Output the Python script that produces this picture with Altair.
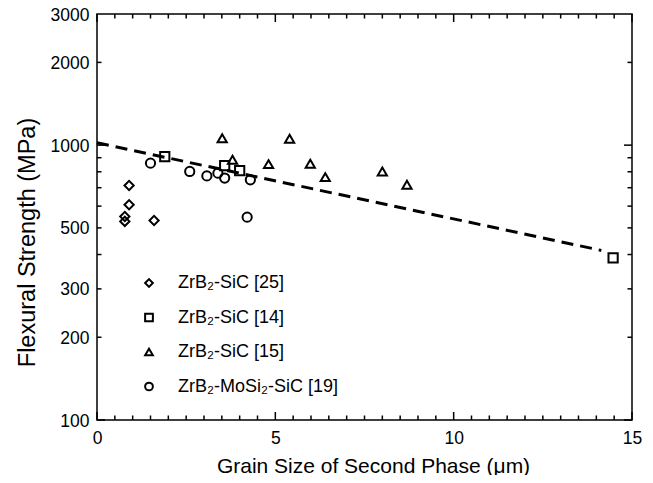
import altair as alt
import pandas as pd

# ---- data ----
diamond_x = [0.90, 0.90, 0.78, 0.78, 1.60]
diamond_y = [713, 607, 550, 528, 532]

square_x = [1.90, 3.58, 4.00, 14.47]
square_y = [909, 843, 808, 389]

triangle_x = [3.51, 3.80, 4.81, 5.40, 5.98, 6.40, 8.00, 8.69]
triangle_y = [1060, 884, 853, 1054, 855, 765, 802, 717]

circle_x = [1.50, 2.60, 3.08, 3.39, 3.58, 4.30, 4.21]
circle_y = [860, 802, 773, 791, 759, 748, 547]

fit_x = [0.0, 14.14]
fit_y = [1020, 414]

series_names = ["ZrB₂-SiC [25]", "ZrB₂-SiC [14]", "ZrB₂-SiC [15]", "ZrB₂-MoSi₂-SiC [19]"]
series_shapes = ["diamond", "square", "triangle-up", "circle"]

x_tick_labels = [0, 5, 10, 15]
x_minor = [v / 2 for v in range(1, 30) if v % 10 != 0]
y_tick_labels = [100, 200, 300, 500, 1000, 2000, 3000]
y_major = [100, 1000]
y_minor = [200, 300, 400, 500, 600, 700, 800, 900, 2000]

# ---- tables ----
rows = []
for name, xs, ys in zip(series_names,
                        [diamond_x, square_x, triangle_x, circle_x],
                        [diamond_y, square_y, triangle_y, circle_y]):
    for a, b in zip(xs, ys):
        rows.append({"series": name, "x": a, "y": b})
pts = pd.DataFrame(rows)
fit = pd.DataFrame({"x": fit_x, "y": fit_y})

W, H = 535, 406
FONT = "Liberation Sans"

xscale = alt.Scale(domain=[0, 15], nice=False, zero=False)
yscale = alt.Scale(type="log", domain=[100, 3000], nice=False)

xaxis = alt.Axis(values=x_tick_labels, format="d", title="Grain Size of Second Phase (μm)",
                 ticks=False, domain=False, grid=False, labelFlush=False, labelOverlap=False,
                 labelPadding=9, labelFontSize=17.5, titleFontSize=21,
                 titleX=276, titleY=46, titleBaseline="middle", titleAlign="center")
yaxis = alt.Axis(values=y_tick_labels, format="d", title="Flexural Strength (MPa)",
                 ticks=False, domain=False, grid=False, labelFlush=False, labelOverlap=False,
                 labelPadding=8, labelFontSize=17.5, labelOffset=1, titleFontSize=23.5,
                 titleX=-70, titleY=228, titleBaseline="middle", titleAlign="center", titleAngle=-90)

X = lambda f: alt.X(f, type="quantitative", scale=xscale, axis=xaxis)
Y = lambda f: alt.Y(f, type="quantitative", scale=yscale, axis=yaxis)

points = alt.Chart(pts).mark_point(filled=False, stroke="black", strokeWidth=2, size=85, opacity=1).encode(
    x=X("x"), y=Y("y"),
    shape=alt.Shape("series:N",
                    scale=alt.Scale(domain=series_names, range=series_shapes),
                    legend=alt.Legend(title=None, orient="none", legendX=43, legendY=260,
                                      symbolSize=60, symbolStrokeWidth=2, symbolStrokeColor="black",
                                      symbolFillColor="transparent", labelFontSize=18,
                                      labelOffset=20, rowPadding=16.5, labelFont=FONT,
                                      labelColor="black")),
)

line = alt.Chart(fit).mark_line(color="black", strokeWidth=3, strokeDash=[12, 7]).encode(
    x=X("x"), y=Y("y"))


def xticks(vals, length):
    d = pd.DataFrame({"v": vals})
    bot = alt.Chart(d).mark_rule(color="black", strokeWidth=1.5).encode(
        x=X("v"), y=alt.value(H), y2=alt.value(H - length))
    top = alt.Chart(d).mark_rule(color="black", strokeWidth=1.5).encode(
        x=X("v"), y=alt.value(0), y2=alt.value(length))
    return [bot, top]


def yticks(vals, length):
    d = pd.DataFrame({"v": vals})
    left = alt.Chart(d).mark_rule(color="black", strokeWidth=1.5).encode(
        y=Y("v"), x=alt.value(0), x2=alt.value(length))
    right = alt.Chart(d).mark_rule(color="black", strokeWidth=1.5).encode(
        y=Y("v"), x=alt.value(W), x2=alt.value(W - length))
    return [left, right]


layers = (xticks(x_tick_labels, 8) + xticks(x_minor, 4.5)
          + yticks(y_major, 8) + yticks(y_minor, 4.5) + [line, points])

chart = alt.layer(*layers).properties(
    width=W, height=H,
    autosize=alt.AutoSizeParams(type="none"),
    padding={"left": 89, "top": 6, "right": 13, "bottom": 55},
).configure(font=FONT).configure_view(
    stroke="black", strokeWidth=1.5
).configure_axis(
    labelColor="black", titleColor="black", titleFontWeight="normal", labelFont=FONT, titleFont=FONT
)

chart.save("out.html", embed_options={"renderer": "svg", "actions": False})
